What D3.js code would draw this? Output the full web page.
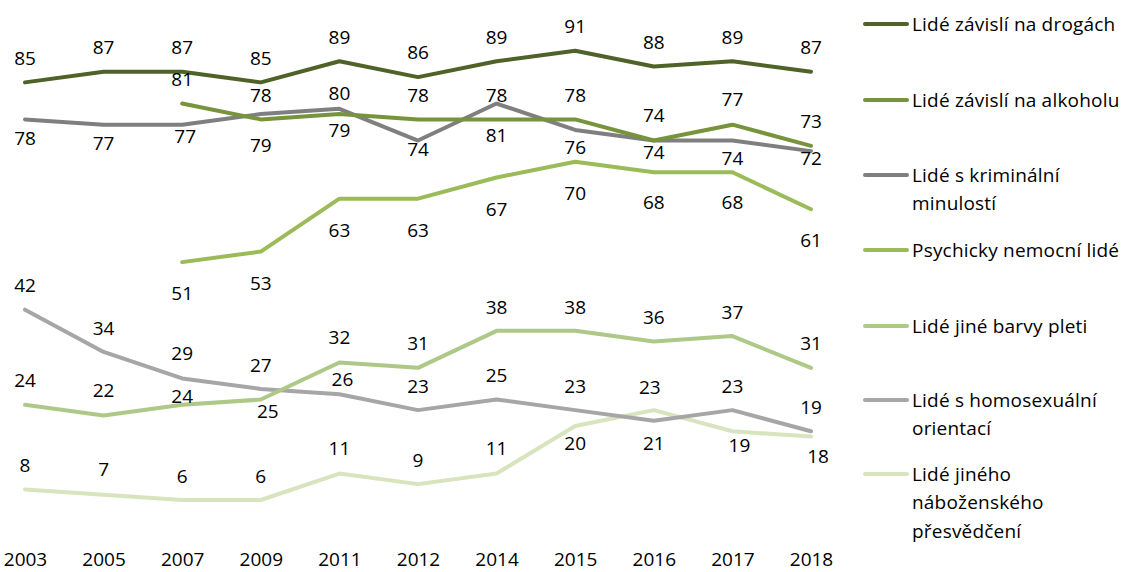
<!DOCTYPE html>
<html>
<head>
<meta charset="utf-8">
<script src="https://cdn.jsdelivr.net/npm/d3@7"></script>
<style>
  html, body { margin: 0; padding: 0; background: #fff; }
  svg { display: block; }
  text { font-family: "Open Sans", "Noto Sans", sans-serif; fill: #000; }
</style>
</head>
<body>
<svg id="chart" width="1123" height="572"></svg>
<script>
// Years surveyed
const years = ["2003", "2005", "2007", "2009", "2011", "2012", "2014", "2015", "2016", "2017", "2018"];

// Share of respondents (%) per group
const drugs    = [85, 87, 87, 85, 89, 86, 89, 91, 88, 89, 87];
const alcohol  = [null, null, 81, 78, 79, 78, 78, 78, 74, 77, 73];
const criminal = [78, 77, 77, 79, 80, 74, 81, 76, 74, 74, 72];
const mental   = [null, null, 51, 53, 63, 63, 67, 70, 68, 68, 61];
const skin     = [24, 22, 24, 25, 32, 31, 38, 38, 36, 37, 31];
const homo     = [42, 34, 29, 27, 26, 23, 25, 23, 21, 23, 19];
const religion = [8, 7, 6, 6, 11, 9, 11, 20, 23, 19, 18];

const seriesNames = [
  "Lidé závislí na drogách",
  "Lidé závislí na alkoholu",
  "Lidé s kriminální minulostí",
  "Psychicky nemocní lidé",
  "Lidé jiné barvy pleti",
  "Lidé s homosexuální orientací",
  "Lidé jiného náboženského přesvědčení"
];
// Legend text broken into lines
const legendLines = [
  ["Lidé závislí na drogách"],
  ["Lidé závislí na alkoholu"],
  ["Lidé s kriminální", "minulostí"],
  ["Psychicky nemocní lidé"],
  ["Lidé jiné barvy pleti"],
  ["Lidé s homosexuální", "orientací"],
  ["Lidé jiného", "náboženského", "přesvědčení"]
];

const colors = ["#4f6228", "#77933c", "#7f7f7f", "#9bbb59", "#adc887", "#a6a6a6", "#d7e4bd"];

// Vertical placement of value labels relative to their point (px, digit centre)
const labelDy = [
  [-24.5, -24.5, -24.5, -24.5, -24.5, -24.5, -24.5, -24.5, -24.5, -24.5, -24.5],
  [0, 0, -24.5, -24.5, 16, -24.5, -24.5, -24.5, -25.5, -25.5, -25],
  [19, 18, 11, 31, -15.5, 8.5, 31.5, 17, 12, 18, 7.5],
  [0, 0, 31, 31.5, 31.3, 31.3, 31.8, 31.6, 30.4, 30.4, 30.7],
  [-24.8, -25.4, -8.8, 11.4, -25.2, -24.5, -24.1, -24.1, -24.7, -24.4, -24.5],
  [-25, -24.3, -25, -24, -15.3, -24, -24.6, -24, 22.6, -24, -24.6],
  [-24.4, -25.4, -24, -24, -25.3, -24, -25, 17.3, -22.8, 13.7, 20]
];
// Horizontal nudges of value labels (px)
const labelDx = [
  [0, 0, 0, 0, 0, 0, 0, 0, 0, 0, 0],
  [0, 0, 0, 0, 0, 0, 0, 0, 0, 0, 0],
  [0, 0, 3, 0, 0, 0, 0, 0, 0, 0, 0],
  [0, 0, 0, 0, 0, 0, 0, 0, 0, 0, 0],
  [0, 0, 0, 7, 0, 0, 0, 0, 0, 0, 0],
  [0, 0, 0, 0, 3, 0, 0, 0, 0, 0, 0],
  [0, 0, 0, 0, 0, 0, 0, 0, -4, 7, 7]
];

const seriesValues = [drugs, alcohol, criminal, mental, skin, homo, religion];
const series = seriesValues.map((vals, i) => ({
  name: seriesNames[i],
  color: colors[i],
  points: vals.map((v, j) => ({ year: years[j], value: v, dy: labelDy[i][j], dx: labelDx[i][j] }))
}));

const FS = 19;
const svg = d3.select("#chart");

const x = d3.scalePoint().domain(years).range([25, 811]);
const y = d3.scaleLinear().domain([0, 100]).range([531.7, 3.1]);

// Category axis (labels only)
const xAxis = svg.append("g")
  .attr("transform", `translate(0,${y(0)})`)
  .call(d3.axisBottom(x).tickSize(0).tickPadding(21));
xAxis.select(".domain").remove();
xAxis.selectAll("text")
  .style("font-family", '"Open Sans", "Noto Sans", sans-serif')
  .style("font-size", FS + "px")
  .attr("fill", "#000");

const line = d3.line()
  .defined(d => d.value != null)
  .x(d => x(d.year))
  .y(d => y(d.value));

const g = svg.append("g");

// Lines, drawn so that the first series sits on top
g.selectAll("path.series")
  .data(series.slice().reverse())
  .join("path")
  .attr("class", "series")
  .attr("fill", "none")
  .attr("stroke", d => d.color)
  .attr("stroke-width", 4)
  .attr("stroke-linejoin", "round")
  .attr("stroke-linecap", "round")
  .attr("d", d => line(d.points));

// Value labels
series.forEach(s => {
  g.append("g").selectAll("text")
    .data(s.points.filter(p => p.value != null))
    .join("text")
    .attr("x", p => x(p.year) + p.dx)
    .attr("y", p => y(p.value) + p.dy + FS * 0.36)
    .attr("text-anchor", "middle")
    .style("font-size", FS + "px")
    .text(p => p.value);
});

// Legend
const legendY = [24, 100, 175, 250, 326, 400, 474];
const legend = svg.append("g");
series.forEach((s, i) => {
  const item = legend.append("g").attr("transform", `translate(0,${legendY[i]})`);
  item.append("line")
    .attr("x1", 865).attr("x2", 907)
    .attr("y1", 0).attr("y2", 0)
    .attr("stroke", s.color)
    .attr("stroke-width", 4)
    .attr("stroke-linecap", "round");
  const t = item.append("text")
    .attr("x", 912)
    .attr("y", FS * 0.36)
    .style("font-size", FS + "px")
    .style("letter-spacing", "0.2px");
  legendLines[i].forEach((ln, k) => {
    t.append("tspan").attr("x", 912).attr("dy", k === 0 ? 0 : 28.5).text(ln);
  });
});
</script>
</body>
</html>
